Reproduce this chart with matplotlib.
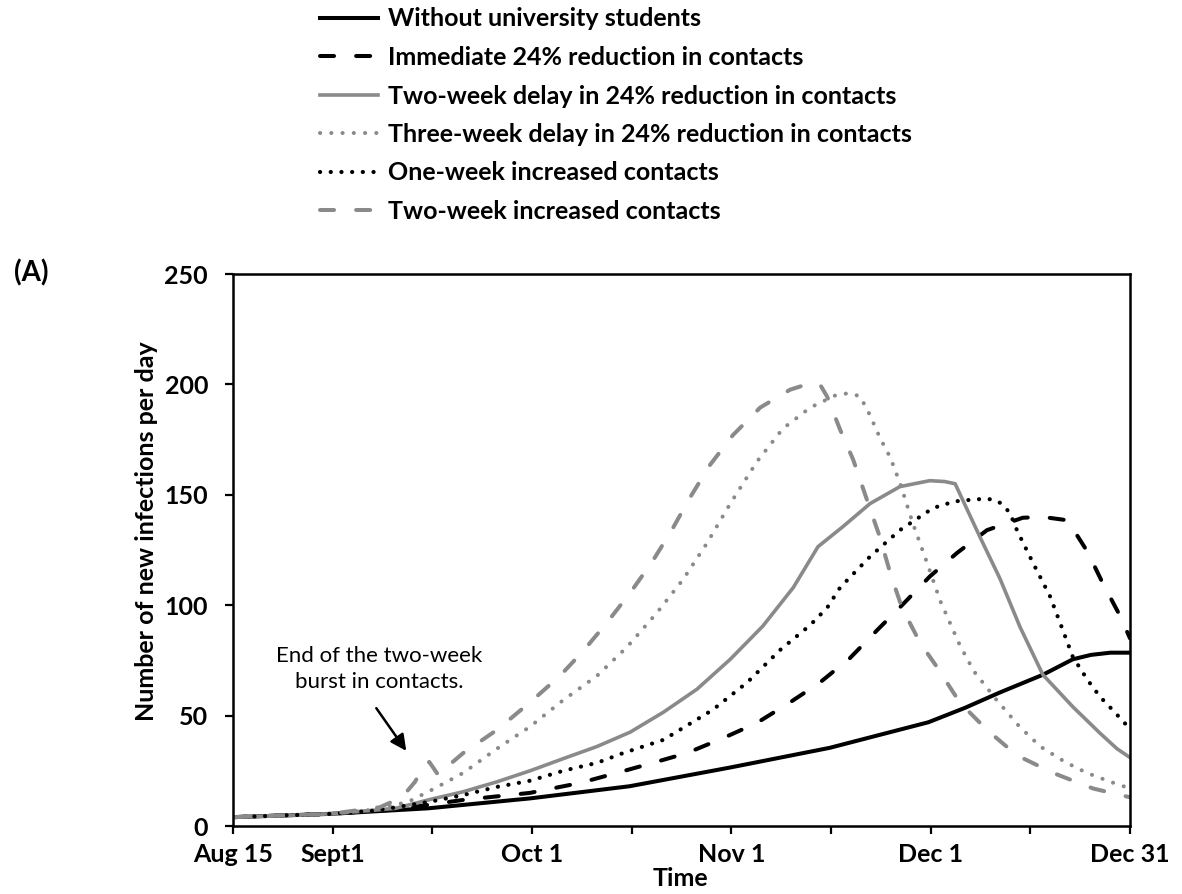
import numpy as np
import matplotlib
matplotlib.use('Agg')
import matplotlib.pyplot as plt

plt.rcParams['font.family'] = ['Lato', 'DejaVu Sans']
plt.rcParams['lines.scale_dashes'] = False

# x values are days since Aug 15
x_tick_labels = ['Aug 15', 'Sept1', '', 'Oct 1', '', 'Nov 1', '', 'Dec 1', '', 'Dec 31']
y_ticks = [0, 50, 100, 150, 200, 250]

labels = ['Without university students',
          'Immediate 24% reduction in contacts',
          'Two-week delay in 24% reduction in contacts',
          'Three-week delay in 24% reduction in contacts',
          'One-week increased contacts',
          'Two-week increased contacts']

days_base = [0, 15, 30, 45.7, 61, 76.5, 91.8, 107, 112.6, 118, 124.6, 129.2, 132, 135, 138]
vals_base = [4, 5.5, 8, 12.5, 18, 26.5, 35.4, 47, 53.5, 60.5, 68.5, 75.5, 77.5, 78.5, 78.5]

days_imm = [0, 15, 25, 35.4, 45.7, 53.4, 59, 64.6, 69.8, 75.4, 80.6, 85.7, 90.3, 94.9, 99.2,
            102.6, 107.2, 111.4, 116, 121.5, 124.5, 128.3, 130, 131.5, 133.8, 136.5, 138]
vals_imm = [4, 5.5, 7.5, 11.8, 15, 19.5, 24, 28.6, 33, 39.8, 46.7, 56, 65, 76, 89,
            99, 113, 123.7, 134, 139.6, 140, 138.5, 131, 124, 110, 95, 85]

days_two = [0, 15, 25, 30.3, 35.4, 40.6, 45.7, 50.8, 56, 61.1, 66.2, 71.4, 76.5, 81.5, 86.2,
            90, 93.8, 98, 102.6, 107.2, 109.5, 111.1, 114.9, 118, 121.1, 124.6, 129.2, 133.4, 136, 138]
vals_two = [4, 5.5, 8, 12, 15.5, 20, 25, 30.5, 36, 42.5, 51.5, 62, 75.5, 90.5, 108,
            126.5, 135.5, 146, 153.7, 156.4, 156, 155, 131, 112, 90, 68.5, 54, 42, 35, 31]

days_three = [0, 15, 22, 27, 31, 35.4, 40.6, 45.7, 50.8, 56, 60.6, 65.2, 69.2, 72.9, 76.5, 80.6,
              84.6, 88.8, 93, 95, 96.5, 98, 99.5, 101.1, 102.6, 104.6, 106.8, 108.8, 110, 111.8,
              114, 117.5, 121, 124.2, 128, 131.4, 135, 138]
vals_three = [4, 5.5, 7.5, 11, 17, 24, 35, 45, 57, 68, 81, 96.5, 111.5, 128, 146, 165,
              180, 189.5, 195.5, 196, 194.5, 186, 176, 167, 155.5, 137, 119, 102, 94, 82,
              70, 57, 45, 36, 29, 24, 20, 17]

days_one = [0, 15, 22, 30.3, 35.4, 40.6, 45.7, 50.8, 56, 60, 66.2, 73.8, 79.1, 84.2, 88.8, 91.4,
            93.4, 98, 102.6, 107.7, 111, 114.5, 116.5, 118, 119.5, 120.6, 123.1, 125.7, 127.5,
            129.2, 131.5, 133.4, 135.5, 138]
vals_one = [4, 5.5, 7, 11, 14, 17.7, 20.5, 25, 28.6, 33, 39, 52.6, 65, 79.8, 91, 98.8,
            108, 122, 134, 144, 147, 148, 148, 146.4, 142, 134, 119, 104, 90,
            76.6, 66, 58.5, 52, 44]

days_twoinc = [0, 15, 22.6, 26, 28, 29.5, 30.2, 31.6, 33, 35.4, 40.6, 45.7, 50.3, 53.8, 57.5,
               61.1, 64.5, 67.5, 70.3, 73.4, 76.9, 81.1, 85.7, 88.8, 90.3, 91.4, 93.4, 95.4,
               97.5, 99.5, 101.1, 102.9, 105.7, 108.3, 111.8, 116, 120.6, 126.2, 132.3, 138]
vals_twoinc = [4, 5.5, 8.5, 13, 20, 28, 29, 23, 27, 33, 43.5, 56, 68, 79, 92,
               105.6, 119.7, 134, 148.7, 163.6, 177, 189.5, 197.6, 200.5, 200, 194.5, 179.5, 166,
               148, 131, 114.7, 99, 83, 72, 56, 43.5, 32, 24, 17, 13]

GRAY = '#8a8a8a'

fig = plt.figure(figsize=(11.82, 8.94), dpi=100)
ax = fig.add_axes([233 / 1182, 68 / 894, 897 / 1182, 552 / 894])

ax.plot(days_base, vals_base, color='black', lw=2.9, label=labels[0])
ax.plot(days_imm, vals_imm, color='black', lw=2.9, ls=(0, (10.1, 15.9)),
        dash_capstyle='round', label=labels[1])
ax.plot(days_two, vals_two, color=GRAY, lw=2.6, label=labels[2])
ax.plot(days_three, vals_three, color=GRAY, lw=2.9, ls=(0, (0.1, 8.0)),
        dash_capstyle='round', label=labels[3])
ax.plot(days_one, vals_one, color='black', lw=3.0, ls=(0, (0.1, 7.6)),
        dash_capstyle='round', label=labels[4])
ax.plot(days_twoinc, vals_twoinc, color=GRAY, lw=2.9, ls=(0, (10.1, 15.9)),
        dash_capstyle='round', label=labels[5])

ax.set_xlim(0, 138)
ax.set_ylim(0, 250)
ax.set_xticks(np.linspace(0, 138, 10))
ax.set_xticklabels(x_tick_labels)
ax.set_yticks(y_ticks)
ax.tick_params(axis='both', direction='out', length=6, width=1.6, labelsize=18)
ax.tick_params(axis='y', pad=12)
ax.tick_params(axis='x', pad=6)
for t in ax.get_xticklabels() + ax.get_yticklabels():
    t.set_fontweight('bold')
for s in ax.spines.values():
    s.set_linewidth(1.8)

ax.annotate('', xy=(26.9, 33), xytext=(21.8, 54.4),
            arrowprops=dict(arrowstyle='-|>', color='black', lw=1.8, mutation_scale=24))
ax.text(22.5, 71, 'End of the two-week\nburst in contacts.', ha='center', va='center',
        fontsize=16, linespacing=1.35)

fig.text(147 / 1182, 1 - 531 / 894, 'Number of new infections per day', rotation=90,
         ha='center', va='center', fontsize=18, fontweight='bold')
fig.text(680 / 1182, 1 - 878 / 894, 'Time', ha='center', va='center',
         fontsize=18, fontweight='bold')
fig.text(14 / 1182, 1 - 273 / 894, '(A)', ha='left', va='center',
         fontsize=20, fontweight='bold')

fig.legend(loc='upper left', bbox_to_anchor=(318 / 1182, 1 - 5 / 894), frameon=False,
           prop={'size': 18, 'weight': 'bold'}, handlelength=2.3, handletextpad=0.4,
           labelspacing=0.62, borderpad=0.1, borderaxespad=0)

fig.savefig('out.png', dpi=100)
